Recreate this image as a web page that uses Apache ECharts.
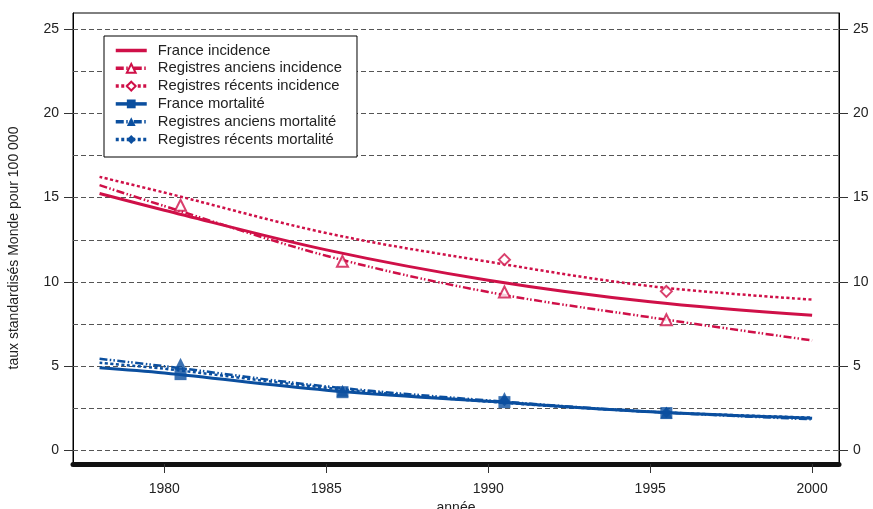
<!DOCTYPE html>
<html><head><meta charset="utf-8">
<script src="https://cdn.jsdelivr.net/npm/echarts@6/dist/echarts.min.js"></script>
<style>html,body{margin:0;padding:0;background:#fff}#c{width:873px;height:509px}</style>
</head><body><div id="c"></div>
<script>
// fitted curves
const curveYears = [1978, 1980, 1985, 1990, 1995, 2000];
const franceIncidence  = [15.24, 14.25, 11.9, 10.1, 8.82, 8.02];
const anciensIncidence = [15.74, 14.5, 11.55, 9.4, 7.9, 6.53];
const recentsIncidence = [16.23, 15.3, 12.9, 11.2, 9.75, 8.95];
const franceMortalite  = [4.91, 4.6, 3.58, 2.92, 2.3, 1.92];
const anciensMortalite = [5.44, 5.0, 3.8, 2.97, 2.3, 1.85];
const recentsMortalite = [5.2, 4.85, 3.72, 2.9, 2.3, 1.95];

// observed points
const obsYears = [1980.5, 1985.5, 1990.5, 1995.5];
const anciensIncidenceObs = [14.55, 11.22, 9.40, 7.76];
const recentsIncidenceObs = [null, null, 11.32, 9.44];
const franceMortaliteObs  = [4.53, 3.46, 2.87, 2.22];
const anciensMortaliteObs = [5.15, 3.55, 3.12, 2.25];
const recentsMortaliteObs = [null, null, 2.95, 2.25];

const xTicks = [1980, 1985, 1990, 1995, 2000];
const yTicks = [0, 5, 10, 15, 20, 25];
const gridValues = [0, 2.5, 5, 7.5, 10, 12.5, 15, 17.5, 20, 22.5, 25];

const names = ['France incidence', 'Registres anciens incidence', 'Registres récents incidence',
  'France mortalité', 'Registres anciens mortalité', 'Registres récents mortalité'];

const RED = '#cf1048', BLUE = '#0b4f9f';
const DASHDOT = [8, 2.5, 1.5, 2, 1.5, 2.5];
const DOT = [3, 2.5];

function pairs(xs, ys) {
  const out = [];
  xs.forEach((x, i) => { if (ys[i] != null) out.push([x, ys[i]]); });
  return out;
}

function curve(name, ys, color, type, symbol, width) {
  return {
    name, type: 'line', data: pairs(curveYears, ys), smooth: 0.35,
    symbol, showSymbol: false, symbolSize: 10, z: 3,
    lineStyle: { color, width, type }, itemStyle: { color },
    emphasis: { disabled: true }
  };
}
function marks(name, ys, color, symbol, size, z) {
  return {
    name, type: 'scatter', data: pairs(obsYears, ys), symbol, symbolSize: size, z,
    itemStyle: symbol.indexOf('empty') === 0 ? { color, borderColor: color, borderWidth: 2 } : { color },
    emphasis: { disabled: true }
  };
}

const font = 'Liberation Sans, Arial, Helvetica, sans-serif';
const legendData = names.map((n, i) => i === 0 ? { name: n, itemStyle: { opacity: 0 } } : { name: n });
const chart = echarts.init(document.getElementById('c'), null, { renderer: 'canvas' });
chart.setOption({
  animation: false,
  backgroundColor: '#fff',
  textStyle: { fontFamily: font },
  grid: { left: 73, right: 34, top: 13, bottom: 45, show: true, borderColor: '#000', borderWidth: 1,
    containLabel: false, outerBoundsMode: 'none' },
  legend: {
    data: legendData, orient: 'vertical', left: 104, top: 36, z: 20,
    padding: [7, 15, 10, 10], itemGap: 2.8, itemWidth: 31, itemHeight: 11,
    backgroundColor: '#fff', borderColor: '#000', borderWidth: 1,
    lineStyle: { width: 3.5 },
    textStyle: { fontSize: 14.8, color: '#222', lineHeight: 14, fontFamily: font, padding: [0, 0, 0, 6] },
    selectedMode: false
  },
  xAxis: {
    type: 'value', min: 1977.18, max: 2000.83,
    name: 'année', nameLocation: 'middle', nameGap: 33,
    nameTextStyle: { fontSize: 14, color: '#222', fontFamily: font },
    axisLine: { show: true, onZero: false, lineStyle: { color: '#111', width: 5 } },
    axisTick: { show: true, customValues: xTicks, length: 9, lineStyle: { color: '#333', width: 1 } },
    axisLabel: { customValues: xTicks, margin: 18, fontSize: 14, color: '#222', fontFamily: font, formatter: v => String(v) },
    splitLine: { show: false }
  },
  yAxis: [{
    type: 'value', min: -0.8, max: 25.95, position: 'left',
    name: 'taux standardisés Monde pour 100 000', nameLocation: 'middle', nameGap: 52,
    nameTextStyle: { fontSize: 14, color: '#222', fontFamily: font, padding: [0, 19, 0, 0] },
    axisLine: { show: true, lineStyle: { color: '#000', width: 1 } },
    axisTick: { show: true, customValues: yTicks, length: 9, lineStyle: { color: '#333' } },
    axisLabel: { customValues: yTicks, margin: 14, fontSize: 14, color: '#222', fontFamily: font },
    splitLine: { show: false }
  }, {
    type: 'value', min: -0.8, max: 25.95, position: 'right',
    axisLine: { show: true, lineStyle: { color: '#000', width: 1 } },
    axisTick: { show: true, customValues: yTicks, length: 9, lineStyle: { color: '#333' } },
    axisLabel: { customValues: yTicks, margin: 14, fontSize: 14, color: '#222', fontFamily: font },
    splitLine: { show: false }
  }],
  series: [
    {
      name: 'grid', type: 'line', data: [], z: 1, silent: true,
      markLine: {
        silent: true, symbol: 'none', label: { show: false }, animation: false, z: 1,
        lineStyle: { color: '#555', width: 1, type: [5, 3] },
        data: gridValues.map(v => ({ yAxis: v }))
      }
    },
    curve(names[0], franceIncidence, RED, 'solid', 'none', 3),
    curve(names[1], anciensIncidence, RED, DASHDOT, 'emptyTriangle', 2.5),
    curve(names[2], recentsIncidence, RED, DOT, 'emptyDiamond', 2.5),
    curve(names[3], franceMortalite, BLUE, 'solid', 'rect', 3),
    curve(names[4], anciensMortalite, BLUE, DASHDOT, 'triangle', 2.5),
    curve(names[5], recentsMortalite, BLUE, DOT, 'diamond', 2.5),
    marks(names[1], anciensIncidenceObs, RED, 'emptyTriangle', 11, 4),
    marks(names[2], recentsIncidenceObs, RED, 'emptyDiamond', 11, 4),
    marks(names[4], anciensMortaliteObs, BLUE, 'triangle', 12, 4),
    marks(names[5], recentsMortaliteObs, BLUE, 'diamond', 11, 5),
    marks(names[3], franceMortaliteObs, BLUE, 'rect', 12, 6)
  ]
});
</script>
</body></html>
